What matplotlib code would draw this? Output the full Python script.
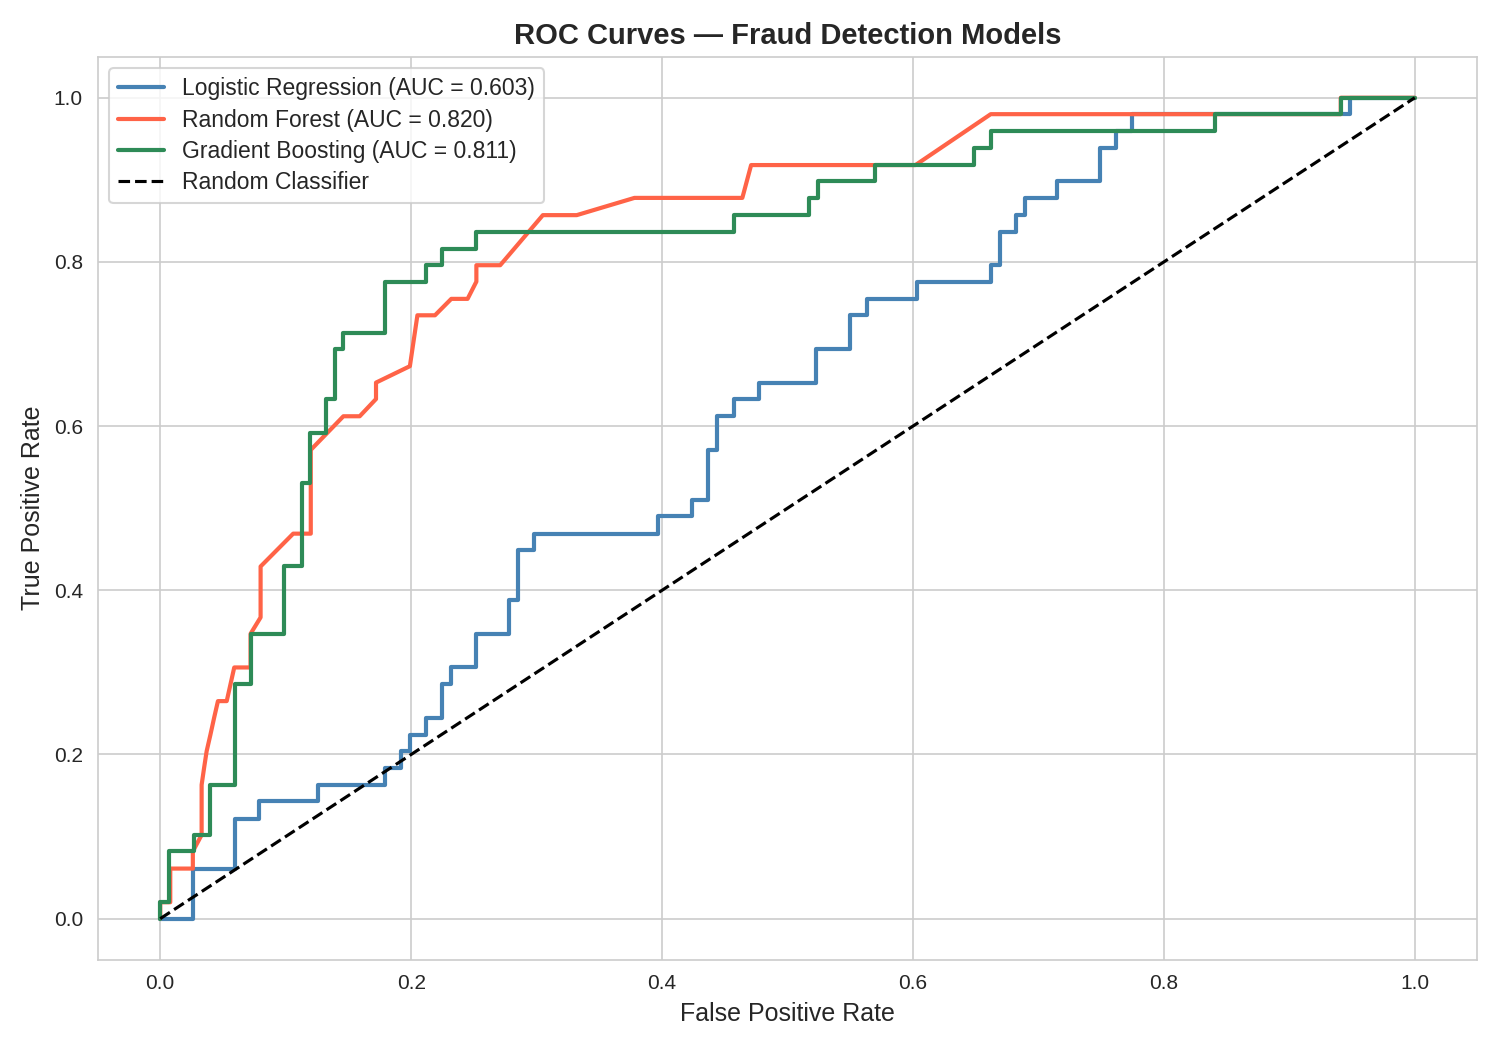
import matplotlib
matplotlib.use("Agg")
import matplotlib.pyplot as plt
import seaborn as sns

# ROC points (false positive rate, true positive rate)
lr_fpr = [0, 0.026, 0.026, 0.060, 0.060, 0.079, 0.079, 0.126, 0.126, 0.179, 0.179,
          0.192, 0.192, 0.199, 0.199, 0.212, 0.212, 0.225, 0.225, 0.232, 0.232,
          0.252, 0.252, 0.278, 0.278, 0.285, 0.285, 0.298, 0.298, 0.397, 0.397,
          0.424, 0.424, 0.437, 0.437, 0.444, 0.444, 0.457, 0.457, 0.477, 0.477,
          0.523, 0.523, 0.550, 0.550, 0.563, 0.563, 0.603, 0.603, 0.662, 0.662,
          0.669, 0.669, 0.682, 0.682, 0.689, 0.689, 0.715, 0.715, 0.749, 0.749,
          0.762, 0.762, 0.775, 0.775, 0.948, 0.948, 1.0]
lr_tpr = [0, 0, 0.061, 0.061, 0.122, 0.122, 0.143, 0.143, 0.163, 0.163, 0.184,
          0.184, 0.204, 0.204, 0.224, 0.224, 0.245, 0.245, 0.286, 0.286, 0.306,
          0.306, 0.347, 0.347, 0.388, 0.388, 0.449, 0.449, 0.469, 0.469, 0.490,
          0.490, 0.510, 0.510, 0.571, 0.571, 0.612, 0.612, 0.633, 0.633, 0.653,
          0.653, 0.694, 0.694, 0.735, 0.735, 0.755, 0.755, 0.776, 0.776, 0.796,
          0.796, 0.837, 0.837, 0.857, 0.857, 0.878, 0.878, 0.898, 0.898, 0.939,
          0.939, 0.959, 0.959, 0.980, 0.980, 1.0, 1.0]

rf_fpr = [0, 0, 0.008, 0.008, 0.026, 0.026, 0.033, 0.033, 0.035, 0.037, 0.040,
          0.043, 0.046, 0.053, 0.059, 0.072, 0.072, 0.080, 0.080, 0.106, 0.120,
          0.120, 0.146, 0.159, 0.172, 0.172, 0.199, 0.205, 0.219, 0.232, 0.245,
          0.252, 0.252, 0.271, 0.305, 0.332, 0.378, 0.464, 0.471, 0.602, 0.662,
          0.941, 0.941, 1.0]
rf_tpr = [0, 0.020, 0.020, 0.061, 0.061, 0.082, 0.102, 0.163, 0.184, 0.204, 0.224,
          0.245, 0.265, 0.265, 0.306, 0.306, 0.347, 0.367, 0.429, 0.469, 0.469,
          0.571, 0.612, 0.612, 0.633, 0.653, 0.673, 0.735, 0.735, 0.755, 0.755,
          0.776, 0.796, 0.796, 0.857, 0.857, 0.878, 0.878, 0.918, 0.918, 0.980,
          0.980, 1.0, 1.0]

gb_fpr = [0, 0, 0.007, 0.007, 0.027, 0.027, 0.040, 0.040, 0.060, 0.060, 0.072,
          0.072, 0.099, 0.099, 0.113, 0.113, 0.119, 0.119, 0.132, 0.132, 0.139,
          0.139, 0.146, 0.146, 0.179, 0.179, 0.212, 0.212, 0.225, 0.225, 0.252,
          0.252, 0.457, 0.457, 0.517, 0.517, 0.524, 0.524, 0.570, 0.570, 0.649,
          0.649, 0.662, 0.662, 0.841, 0.841, 0.941, 0.941, 1.0]
gb_tpr = [0, 0.020, 0.020, 0.082, 0.082, 0.102, 0.102, 0.163, 0.163, 0.286, 0.286,
          0.347, 0.347, 0.429, 0.429, 0.531, 0.531, 0.592, 0.592, 0.633, 0.633,
          0.694, 0.694, 0.714, 0.714, 0.776, 0.776, 0.796, 0.796, 0.816, 0.816,
          0.837, 0.837, 0.857, 0.857, 0.878, 0.878, 0.898, 0.898, 0.918, 0.918,
          0.939, 0.939, 0.959, 0.959, 0.980, 0.980, 1.0, 1.0]

labels = ["Logistic Regression (AUC = 0.603)",
          "Random Forest (AUC = 0.820)",
          "Gradient Boosting (AUC = 0.811)"]
colors = ["#4682B4", "#FF6347", "#2E8B57"]

sns.set_style("whitegrid")
plt.rcParams['font.family'] = ['Liberation Sans', 'DejaVu Sans']

fig, ax = plt.subplots(figsize=(10, 7), dpi=150)

curves = [(lr_fpr, lr_tpr), (rf_fpr, rf_tpr), (gb_fpr, gb_tpr)]
for (fpr, tpr), lab, col in zip(curves, labels, colors):
    ax.plot(fpr, tpr, color=col, lw=2, label=lab)

ax.plot([0, 1], [0, 1], 'k--', lw=1.5, label="Random Classifier")

ax.set_title("ROC Curves \u2014 Fraud Detection Models", fontsize=14, fontweight='bold')
ax.set_xlabel("False Positive Rate", fontsize=12)
ax.set_ylabel("True Positive Rate", fontsize=12)
ax.legend(loc='upper left', fontsize=11, labelspacing=0.36)

fig.subplots_adjust(left=0.065, right=0.985, top=0.946, bottom=0.086)
fig.savefig("out.png", dpi=150)
